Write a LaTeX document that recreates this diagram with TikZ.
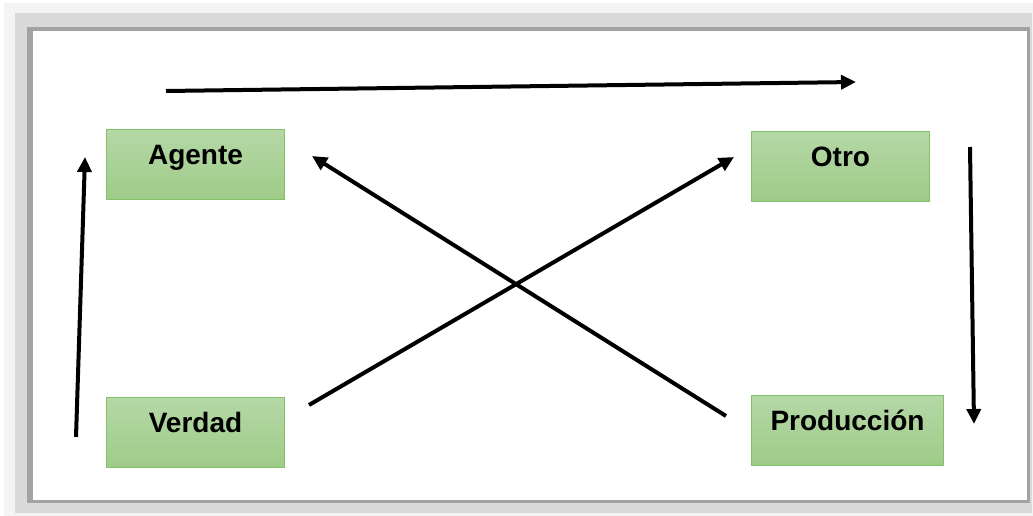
\documentclass[tikz,border=0pt]{standalone}
\usepackage{fontspec}
\setmainfont{Liberation Sans}
\usetikzlibrary{arrows.meta}
\definecolor{shA}{HTML}{F4F4F4}
\definecolor{shB}{HTML}{DADADA}
\definecolor{shC}{HTML}{A3A3A3}
\definecolor{boxtop}{HTML}{B5D8A6}
\definecolor{boxbot}{HTML}{9FCB89}
\definecolor{boxline}{HTML}{82C266}
\tikzset{
  box/.style={draw=boxline, line width=1, top color=boxtop, bottom color=boxbot,
    minimum width=178, inner xsep=0, inner ysep=0, text height=35, text depth=35,
    font=\fontsize{28}{33}\selectfont\bfseries},
  arr/.style={line width=4, -{Triangle[length=15,width=14]}}
}
\begin{document}
\begin{tikzpicture}[x=1pt,y=-1pt]
\useasboundingbox (0,0) rectangle (1033,516);
\fill[white] (0,0) rectangle (1033,516);
\fill[shA] (4,3) rectangle (1033,516);
\fill[shB] (15,13) rectangle (1032,513);
\fill[shC] (27,27) rectangle (1030,503);
\fill[white] (33,31) rectangle (1027,500);

\node[box, anchor=north west] (agente) at (106,129) {Agente};
\node[box, anchor=north west] (otro) at (751,131) {Otro};
\node[box, anchor=north west] (verdad) at (106,397) {Verdad};
\node[box, anchor=north west, minimum width=192] (prod) at (751,395) {Producción};

\coordinate (t1) at (166,91);
\coordinate (t2) at (856,82);
\coordinate (l1) at (76,437);
\coordinate (l2) at (85,157);
\coordinate (r1) at (970,147);
\coordinate (r2) at (974,424);
\coordinate (v1) at (309,405);
\coordinate (o1) at (734,157);
\coordinate (p1) at (726,416);
\coordinate (a1) at (312,156);

\draw[arr] (t1) -- (t2);
\draw[arr] (l1) -- (l2);
\draw[arr] (r1) -- (r2);
\draw[arr] (v1) -- (o1);
\draw[arr] (p1) -- (a1);
\end{tikzpicture}
\end{document}
